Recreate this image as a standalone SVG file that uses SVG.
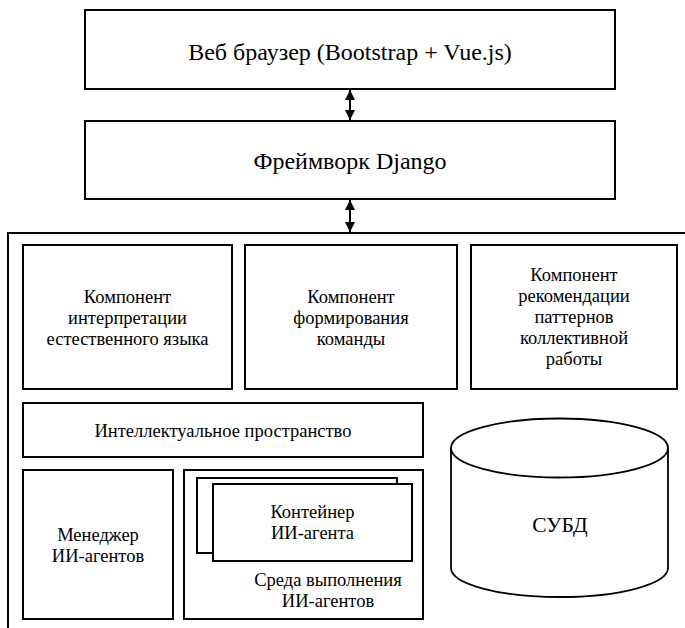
<svg xmlns="http://www.w3.org/2000/svg" width="685" height="628" viewBox="0 0 685 628">
<defs>
<style>
.box{fill:#fff;stroke:#000;stroke-width:2}
.t{font-family:'Liberation Serif','Times New Roman',Times,'DejaVu Serif','Noto Serif',serif;font-size:18.5px;fill:#000;text-anchor:middle}
.h{font-size:24px}
.db{font-size:21.5px}
.cyl{fill:#fff;stroke:#000;stroke-width:1.8}
.conn{stroke:#000;stroke-width:2;fill:none}
</style>
<marker id="ah" markerUnits="userSpaceOnUse" markerWidth="10" markerHeight="10" viewBox="0 0 9 9" refX="9" refY="4.5" orient="auto-start-reverse">
<path d="M0,0 L9,4.5 L0,9 Z" fill="#000"/>
</marker>
</defs>
<rect width="685" height="628" fill="#fff"/>

<g id="browser">
<rect class="box" x="85" y="10" width="530" height="79"/>
<text class="t h" x="350" y="60">Веб браузер (Bootstrap + Vue.js)</text>
</g>

<g id="django">
<rect class="box" x="85" y="121" width="530" height="78"/>
<text class="t h" x="350" y="169">Фреймворк Django</text>
</g>

<g id="server">
<path class="conn" d="M8,630 V233 H690"/>
</g>

<g id="nlp">
<rect class="box" x="23" y="245" width="209" height="144"/>
<text class="t" x="127.5" y="303">Компонент</text>
<text class="t" x="127.5" y="324">интерпретации</text>
<text class="t" x="127.5" y="345">естественного языка</text>
</g>

<g id="team">
<rect class="box" x="245" y="245" width="212" height="144"/>
<text class="t" x="351" y="303">Компонент</text>
<text class="t" x="351" y="324">формирования</text>
<text class="t" x="351" y="345">команды</text>
</g>

<g id="patterns">
<rect class="box" x="471" y="245" width="206" height="144"/>
<text class="t" x="574" y="281">Компонент</text>
<text class="t" x="574" y="302">рекомендации</text>
<text class="t" x="574" y="323">паттернов</text>
<text class="t" x="574" y="344">коллективной</text>
<text class="t" x="574" y="365">работы</text>
</g>

<g id="space">
<rect class="box" x="23" y="403" width="400" height="54"/>
<text class="t" x="223" y="437">Интеллектуальное пространство</text>
</g>

<g id="manager">
<rect class="box" x="23" y="470" width="150" height="149"/>
<text class="t" x="98" y="541">Менеджер</text>
<text class="t" x="98" y="562">ИИ-агентов</text>
</g>

<g id="runtime">
<rect class="box" x="184" y="470" width="239" height="149"/>
<text class="t" x="328" y="586">Среда выполнения</text>
<text class="t" x="328" y="607">ИИ-агентов</text>
</g>

<g id="container">
<rect class="box" x="197" y="478" width="200" height="75"/>
<rect class="box" x="213" y="484" width="199" height="77"/>
<text class="t" x="312.5" y="518">Контейнер</text>
<text class="t" x="312.5" y="539">ИИ-агента</text>
</g>

<g id="dbms">
<path class="cyl" d="M451,448 V568 A108.5,29 0 0,0 668,568 V448"/>
<ellipse class="cyl" cx="559.5" cy="448" rx="108.5" ry="29.5"/>
<text class="t db" x="560" y="532">СУБД</text>
</g>

<g id="connectors">
<line class="conn" x1="350" y1="90" x2="350" y2="120" marker-start="url(#ah)" marker-end="url(#ah)"/>
<line class="conn" x1="350" y1="200" x2="350" y2="232" marker-start="url(#ah)" marker-end="url(#ah)"/>
</g>
</svg>
